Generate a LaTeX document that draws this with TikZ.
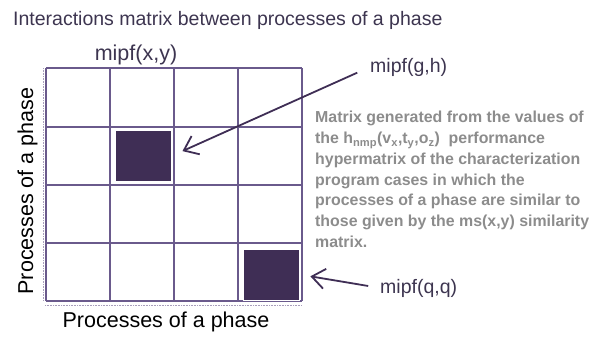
\documentclass[tikz,border=0pt]{standalone}
\usepackage{fontspec}
\setmainfont{Liberation Sans}
\usetikzlibrary{arrows.meta}
\definecolor{gridpurple}{HTML}{6A5A8C}
\definecolor{darkpurple}{HTML}{3F2E55}
\definecolor{titlegrey}{HTML}{3D3550}
\definecolor{notegrey}{HTML}{8C8C8C}
\definecolor{dotgrey}{HTML}{A89EBB}
\begin{document}
\begin{tikzpicture}[x=1pt,y=-1pt,
  lbl/.style={inner sep=0pt,text=titlegrey,font=\fontsize{19.5}{22}\selectfont},
  axis/.style={inner sep=0pt,text=black,font=\fontsize{21.5}{24}\selectfont},
  hit/.style={draw=white,line width=1pt,fill=darkpurple,minimum width=56pt,minimum height=51pt,inner sep=0pt},
  arr/.style={draw=darkpurple,line width=1.8pt,-{Straight Barb[length=13pt,width=20pt]}}]
\useasboundingbox (0,0) rectangle (591,338);
% title and labels
\node[lbl,anchor=base west] (title) at (13,25) {Interactions matrix between processes of a phase};
\node[lbl,anchor=base,font=\fontsize{21.5}{24}\selectfont] (mxy) at (136,60) {mipf(x,y)};
\node[axis,anchor=base] (xlab) at (166,327) {Processes of a phase};
\node[axis,anchor=base,rotate=90] (ylab) at (33,191) {Processes of a phase};
% dotted axes
\draw[dotgrey,line width=1pt,dash pattern=on 0.8pt off 0.8pt] (43,68) -- (43,301);
\draw[dotgrey,line width=1pt,dash pattern=on 0.8pt off 0.8pt] (45,305) -- (302,305);
% grid
\foreach \x in {46,110,174,238,302}
  \draw[gridpurple,line width=2.3pt] (\x,68) -- (\x,301);
\foreach \y in {68,127,185,243,301}
  \draw[gridpurple,line width=2.3pt] (46,\y) -- (302,\y);
% filled cells
\node[hit] (sgh) at (143,156) {};
\node[hit] (sqq) at (271,274.5) {};
% callouts
\node[lbl,anchor=base west] (lgh) at (370,72) {mipf(g,h)};
\node[lbl,anchor=base west] (lqq) at (380,293) {mipf(q,q)};
\draw[arr,shorten <=14pt,shorten >=12pt] (lgh.west) -- (sgh.east);
\draw[arr,shorten <=12pt,shorten >=11pt] (lqq.west) -- (sqq.east);
% note
\node[anchor=north west,inner sep=0pt,align=left,text=notegrey,
  font=\bfseries\fontsize{15.9}{20.8}\selectfont] (note) at (315,111)
  {Matrix generated from the values of\\
   the h\textsubscript{nmp}(v\textsubscript{x},t\textsubscript{y},o\textsubscript{z})~ performance\\
   hypermatrix of the characterization\\
   program cases in which the\\
   processes of a phase are similar to\\
   those given by the ms(x,y) similarity\\
   matrix.};
\end{tikzpicture}
\end{document}
